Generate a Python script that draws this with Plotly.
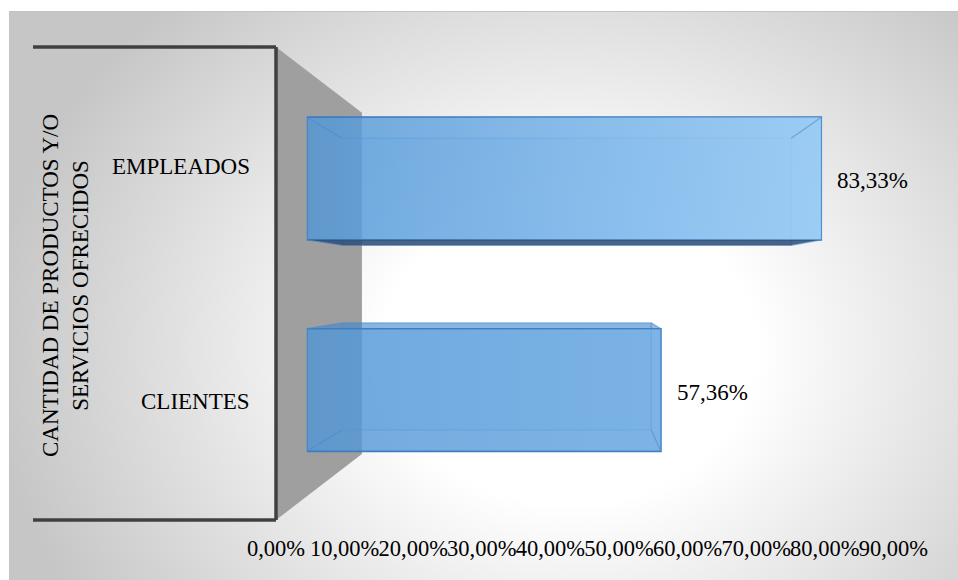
import base64
import plotly.graph_objects as go

# ---- data -------------------------------------------------------------
CATEGORIES = ["CLIENTES", "EMPLEADOS"]
VALUES = [57.36, 83.33]  # percent
TICK_VALUES = [0, 10, 20, 30, 40, 50, 60, 70, 80, 90]
TICK_LABELS = ["0,00%", "10,00%", "20,00%", "30,00%", "40,00%",
               "50,00%", "60,00%", "70,00%", "80,00%", "90,00%"]
AXIS_TITLE = ["CANTIDAD DE PRODUCTOS Y/O", "SERVICIOS OFRECIDOS"]

# ---- 3-D look: simple one-point perspective ----------------------------
W, H = 958, 580
VX, VY = 584.0, 283.0            # vanishing point (px)
X0_FRONT, PX_PER_PCT = 276.0, 6.86   # front plane: 0 % position, px per 1 %
CAT_Y0, PX_PER_CAT = 401.9, 235.0    # front plane: first row centre, row pitch
WALL_TOP, WALL_BOTTOM = 47.0, 520.0
X_RANGE = [0, 95]
Y_RANGE = [(CAT_Y0 - WALL_BOTTOM) / PX_PER_CAT, (CAT_Y0 - WALL_TOP) / PX_PER_CAT]
DEPTH_FRONT_FACE = 0.9     # bar front face
DEPTH_BACK_FACE = 0.786    # bar back face
DEPTH_WALL = 0.721         # back of the side wall
BAR_WIDTH = 0.58

FONT = "Liberation Serif"
FS = 23


def px_x(v, s):
    return VX + s * (X0_FRONT + PX_PER_PCT * v - VX)


def px_y(c, s):
    return VY + s * (CAT_Y0 - PX_PER_CAT * c - VY)


def plane_domain(s):
    xd = [px_x(X_RANGE[0], s) / W, px_x(X_RANGE[1], s) / W]
    yd = [1 - px_y(Y_RANGE[0], s) / H, 1 - px_y(Y_RANGE[1], s) / H]
    return xd, yd


def to_front(v, c, s):
    """Data point at depth s expressed in the front-face axes."""
    r = s / DEPTH_FRONT_FACE
    vf = ((r - 1) * (X0_FRONT - VX) + r * PX_PER_PCT * v) / PX_PER_PCT
    cf = ((1 - r) * (CAT_Y0 - VY) + r * PX_PER_CAT * c) / PX_PER_CAT
    return vf, cf


def paper(xp, yp):
    return xp / W, 1 - yp / H


positions = list(range(len(CATEGORIES)))

# ---- background (radial gradient chart area) ---------------------------
svg = f'''<svg xmlns="http://www.w3.org/2000/svg" width="{W}" height="{H}" viewBox="0 0 {W} {H}" preserveAspectRatio="none">
<defs><radialGradient id="g" gradientUnits="userSpaceOnUse" cx="0" cy="0" r="1"
 gradientTransform="translate(570 350) scale(580 480)">
<stop offset="0" stop-color="#ffffff"/><stop offset="0.32" stop-color="#ffffff"/>
<stop offset="1" stop-color="#c6c6c6"/></radialGradient></defs>
<rect x="9.5" y="11.5" width="{W}" height="{H}" fill="url(#g)" stroke="#c4c4c4" stroke-width="1"/>
</svg>'''
bg_src = "data:image/svg+xml;base64," + base64.b64encode(svg.encode()).decode()

fig = go.Figure()

# back face of each bar
fig.add_trace(go.Bar(
    x=VALUES, y=positions, orientation="h", width=BAR_WIDTH,
    marker=dict(color="rgba(120,180,235,0.15)",
                line=dict(color="rgba(70,140,210,0.6)", width=1.2)),
    xaxis="x", yaxis="y", showlegend=False, hoverinfo="skip"))

# front face of each bar
fig.add_trace(go.Bar(
    x=VALUES, y=positions, orientation="h", width=BAR_WIDTH,
    marker=dict(color="rgba(80,150,215,0.80)",
                line=dict(color="#3b7cc2", width=1.6)),
    xaxis="x2", yaxis="y2", showlegend=False,
    hovertemplate="%{x:.2f}%<extra></extra>"))

# light sheen across each front face
sheen = [0.18, 0.7]
h = BAR_WIDTH / 2
for v, c, a in zip(VALUES, positions, sheen):
    fig.add_trace(go.Scatter(
        x=[0, v, v, 0, 0], y=[c - h, c - h, c + h, c + h, c - h],
        mode="lines", line=dict(width=0), fill="toself",
        fillgradient=dict(type="horizontal",
                          colorscale=[[0, "rgba(175,220,255,0)"],
                                      [1, f"rgba(175,220,255,{a})"]]),
        xaxis="x2", yaxis="y2", showlegend=False, hoverinfo="skip"))

# front plane axes (tick labels)
fig.add_trace(go.Scatter(x=[None], y=[None], xaxis="x3", yaxis="y3",
                         showlegend=False, hoverinfo="skip"))

shapes = []
# side wall depth face
wall = [paper(X0_FRONT, WALL_TOP),
        paper(VX + DEPTH_WALL * (X0_FRONT - VX), VY + DEPTH_WALL * (WALL_TOP - VY)),
        paper(VX + DEPTH_WALL * (X0_FRONT - VX), VY + DEPTH_WALL * (WALL_BOTTOM - VY)),
        paper(X0_FRONT, WALL_BOTTOM)]
shapes.append(dict(type="path", xref="paper", yref="paper", layer="below",
                   path="M " + " L ".join(f"{x},{y}" for x, y in wall) + " Z",
                   fillcolor="#9f9f9f", line=dict(width=0)))
# wall border lines
edge = dict(color="#404040", width=3.5)
for (x0, y0), (x1, y1) in [((33, WALL_TOP), (X0_FRONT, WALL_TOP)),
                           ((X0_FRONT, WALL_TOP), (X0_FRONT, WALL_BOTTOM)),
                           ((33, WALL_BOTTOM), (X0_FRONT, WALL_BOTTOM))]:
    a, b = paper(x0, y0)
    d, e = paper(x1, y1)
    shapes.append(dict(type="line", xref="paper", yref="paper", layer="above",
                       x0=a, y0=b, x1=d, y1=e, line=edge))

# top / bottom faces and depth edges of the boxes
for v, c in zip(VALUES, positions):
    above_vp = px_y(c, DEPTH_FRONT_FACE) < VY
    ce = c - h if above_vp else c + h          # visible horizontal face
    b0 = to_front(0, ce, DEPTH_BACK_FACE)
    b1 = to_front(v, ce, DEPTH_BACK_FACE)
    fill = "rgba(45,75,115,0.85)" if above_vp else "rgba(60,130,200,0.55)"
    shapes.append(dict(type="path", xref="x2", yref="y2", layer="above",
                       path=f"M 0,{ce} L {v},{ce} L {b1[0]},{b1[1]} L {b0[0]},{b0[1]} Z",
                       fillcolor=fill, line=dict(width=0)))
    for xv in (0, v):
        for cc in (c - h, c + h):
            bx, by = to_front(xv, cc, DEPTH_BACK_FACE)
            shapes.append(dict(type="line", xref="x2", yref="y2", layer="above",
                               x0=xv, y0=cc, x1=bx, y1=by,
                               line=dict(color="rgba(70,140,210,0.6)", width=1.2)))

annotations = []
# value labels
for v, c in zip(VALUES, positions):
    annotations.append(dict(
        x=v, y=c, xref="x2", yref="y2", xanchor="left", yanchor="middle",
        xshift=14, yshift=-2, showarrow=False,
        text=f"{v:.2f}".replace(".", ",") + "%",
        font=dict(family=FONT, size=FS, color="black")))
# category labels on the front plane
for name, c in zip(CATEGORIES, positions):
    annotations.append(dict(
        x=252 / W, y=c, xref="paper", yref="y3", xanchor="right", yanchor="middle",
        showarrow=False, text=name, font=dict(family=FONT, size=FS, color="black")))
# axis title
annotations.append(dict(
    x=65 / W, y=1 - 286 / H, xref="paper", yref="paper", xanchor="center",
    yanchor="middle", showarrow=False, textangle=-90,
    text="<br>".join(AXIS_TITLE), font=dict(family=FONT, size=FS, color="black")))

xb, yb = plane_domain(DEPTH_BACK_FACE)
xf, yf = plane_domain(DEPTH_FRONT_FACE)
x1, y1 = plane_domain(1.0)
hidden = dict(visible=False, fixedrange=True)

fig.update_layout(
    width=W, height=H, margin=dict(l=0, r=0, t=0, b=0, autoexpand=False),
    paper_bgcolor="white", plot_bgcolor="rgba(0,0,0,0)",
    font=dict(family=FONT, size=FS, color="black"),
    barmode="overlay", showlegend=False,
    images=[dict(source=bg_src, xref="paper", yref="paper", x=0, y=1,
                 sizex=1, sizey=1, xanchor="left", yanchor="top",
                 sizing="stretch", layer="below")],
    xaxis=dict(domain=xb, range=X_RANGE, anchor="y", **hidden),
    yaxis=dict(domain=yb, range=Y_RANGE, anchor="x", **hidden),
    xaxis2=dict(domain=xf, range=X_RANGE, anchor="y2", **hidden),
    yaxis2=dict(domain=yf, range=Y_RANGE, anchor="x2", **hidden),
    xaxis3=dict(domain=x1, range=X_RANGE, anchor="y3",
                tickmode="array", tickvals=TICK_VALUES, ticktext=TICK_LABELS,
                tickangle=0, ticks="", showgrid=False, zeroline=False,
                showline=False, ticklabelstandoff=12, fixedrange=True,
                automargin=False,
                tickfont=dict(family=FONT, size=22.5, color="black")),
    yaxis3=dict(domain=y1, range=Y_RANGE, anchor="x3",
                visible=False, fixedrange=True),
    shapes=shapes, annotations=annotations,
)

fig.write_html("out.html")
